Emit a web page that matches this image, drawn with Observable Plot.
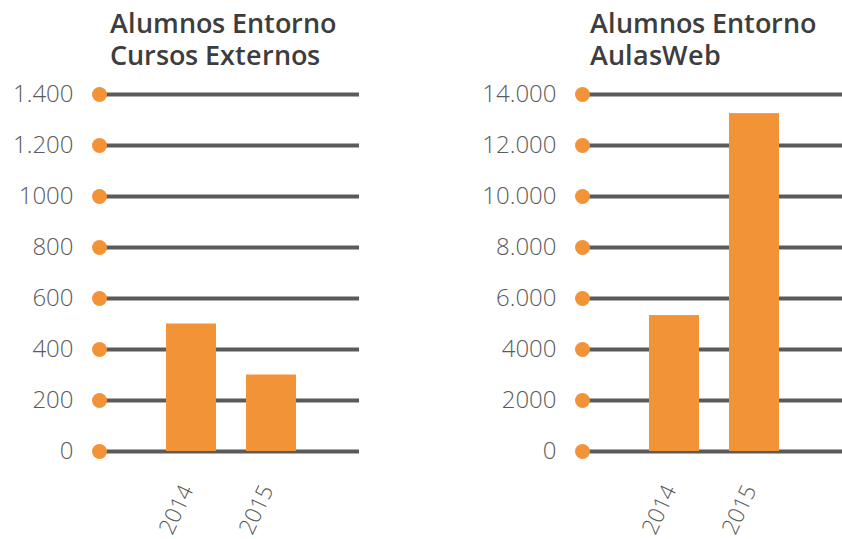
<!DOCTYPE html>
<html><head><meta charset="utf-8">
<script src="https://cdn.jsdelivr.net/npm/d3@7"></script>
<script src="https://cdn.jsdelivr.net/npm/@observablehq/plot@0.6"></script>
<style>
@font-face{
  font-family:"TitleSans";
  src:local("Open Sans SemiBold"),local("OpenSans-SemiBold"),local("Open Sans Semibold"),local("Open Sans SemiBold Regular");
  font-weight:600;
  ascent-override:95%;
  descent-override:25%;
  line-gap-override:0%;
}
body{margin:0;background:#fff;}
#wrap{position:relative;width:842px;height:539px;overflow:hidden;font-family:"Open Sans",sans-serif;background:#fff;}
.panel{position:absolute;top:0;width:362px;height:539px;}
.title{position:absolute;top:8px;font-family:"TitleSans","Open Sans",sans-serif;font-size:26.5px;font-weight:600;color:#3d3d3d;white-space:nowrap;}
.title div{height:32px;line-height:32px;}
.chart{position:absolute;left:0;top:80px;}
</style></head><body><div id="wrap"></div>
<script>
const years = ["2014", "2015"];
const cursosValues = [500, 300];
const aulasValues = [5330, 13250];
const cursosTicks = [0, 200, 400, 600, 800, 1000, 1200, 1400];
const cursosTickLabels = ["0", "200", "400", "600", "800", "1000", "1.200", "1.400"];
const aulasTicks = [0, 2000, 4000, 6000, 8000, 10000, 12000, 14000];
const aulasTickLabels = ["0", "2000", "4000", "6.000", "8.000", "10.000", "12.000", "14.000"];
const titles = [["Alumnos Entorno", "Cursos Externos"], ["Alumnos Entorno", "AulasWeb"]];

const ORANGE = "#f39338";
const GRID = "#5a5a5a";
const TEXT = "#5a5a5a";

function makeChart(values, ticks, labels) {
  const data = years.map((y, i) => ({year: y, value: values[i]}));
  const fmt = new Map(ticks.map((t, i) => [t, labels[i]]));
  return Plot.plot({
    width: 362, height: 459,
    marginLeft: 99, marginRight: 3, marginTop: 14, marginBottom: 88,
    style: {fontFamily: "Open Sans", background: "transparent", overflow: "visible"},
    x: {domain: years, paddingInner: 0.37, paddingOuter: 0.79, align: 0.52, label: null},
    y: {domain: [0, ticks[ticks.length - 1]], label: null},
    marks: [
      Plot.ruleY(ticks, {stroke: GRID, strokeWidth: 4}),
      Plot.barY(data, {x: "year", y: "value", fill: ORANGE}),
      Plot.dot(ticks, {y: d => d, frameAnchor: "left", r: 7.5, fill: ORANGE, stroke: "none"}),
      Plot.axisY({ticks, tickFormat: d => fmt.get(d), tickSize: 0, tickPadding: 26, fontSize: 24, fontWeight: 300, color: TEXT, label: null}),
      Plot.axisX({tickRotate: -65, tickSize: 0, tickPadding: 35, dx: -4, fontSize: 22.5, fontWeight: 300, color: TEXT, label: null})
    ]
  });
}

const wrap = document.getElementById("wrap");
const panels = [
  {left: 0, titleLeft: 110, values: cursosValues, ticks: cursosTicks, labels: cursosTickLabels, title: titles[0]},
  {left: 483, titleLeft: 107, values: aulasValues, ticks: aulasTicks, labels: aulasTickLabels, title: titles[1]}
];
for (const p of panels) {
  const div = document.createElement("div");
  div.className = "panel";
  div.style.left = p.left + "px";
  const t = document.createElement("div");
  t.className = "title";
  t.style.left = p.titleLeft + "px";
  for (const line of p.title) {
    const l = document.createElement("div");
    l.textContent = line;
    t.appendChild(l);
  }
  div.appendChild(t);
  const c = document.createElement("div");
  c.className = "chart";
  c.appendChild(makeChart(p.values, p.ticks, p.labels));
  div.appendChild(c);
  wrap.appendChild(div);
}
</script>
</body></html>
